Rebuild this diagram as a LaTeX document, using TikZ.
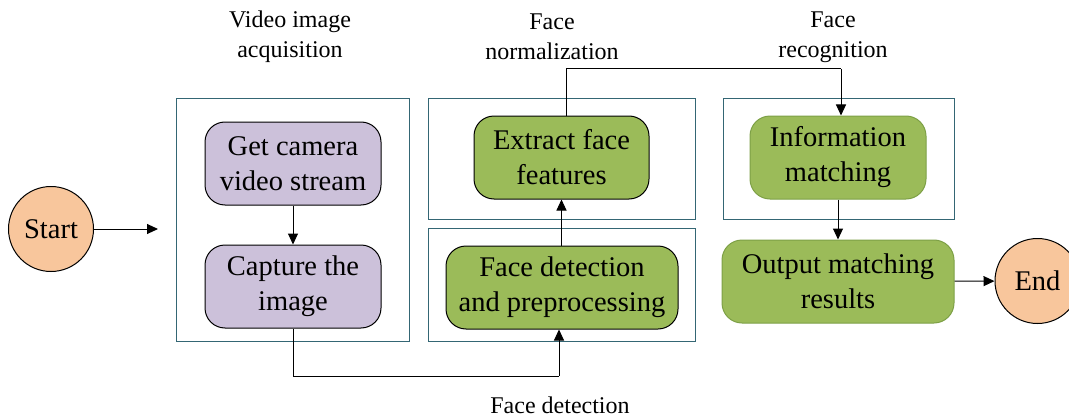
\documentclass[tikz,border=0pt]{standalone}
\usepackage{fontspec}
\setmainfont{Liberation Serif}
\usetikzlibrary{arrows.meta}
\definecolor{purplefill}{RGB}{204,193,218}
\definecolor{greenfill}{RGB}{155,187,89}
\definecolor{greenedge}{RGB}{125,160,70}
\definecolor{orangefill}{RGB}{248,198,156}
\definecolor{frameteal}{RGB}{52,102,116}
\tikzset{
  stepbox/.style={draw=black, line width=1pt, rounded corners=20pt, minimum height=83pt,
    align=center, font=\fontsize{28.5}{35}\selectfont, inner sep=0pt},
  purplebox/.style={stepbox, fill=purplefill, minimum width=176pt},
  greenbox/.style={stepbox, fill=greenfill},
  softgreen/.style={greenbox, draw=greenedge},
  terminal/.style={circle, draw=black, line width=1pt, fill=orangefill, minimum size=85pt,
    inner sep=0pt, font=\fontsize{28.5}{35}\selectfont},
  stage/.style={draw=frameteal, line width=1pt},
  caption/.style={align=center, font=\fontsize{24}{30}\selectfont},
  flow/.style={draw=black, line width=1pt, -{Triangle[length=11pt,width=10pt]}},
  link/.style={draw=black, line width=1pt},
}
\begin{document}
\begin{tikzpicture}[x=1pt,y=-1pt]
\useasboundingbox (0,0) rectangle (1069,420);

% stage frames
\draw[stage] (176,99) rectangle (409,341);
\draw[stage] (428,99) rectangle (695,219);
\draw[stage] (428,228) rectangle (695,341);
\draw[stage] (723,99) rectangle (954,219);

% stage captions
\node[caption] (capvideo) at (290,37) {Video image\\acquisition};
\node[caption] (capnorm) at (552,37) {Face\\normalization};
\node[caption] (caprec) at (833,37) {Face\\recognition};
\node[caption] (capdet) at (560,405) {Face detection};

% terminals
\node[terminal] (start) at (51,229) {Start};
\node[terminal] (end) at (1037.5,281) {End};

% steps
\node[purplebox] (getcam) at (293,163.5) {Get camera\\video stream};
\node[purplebox] (capture) at (293,286.5) {Capture the\\image};
\node[greenbox, minimum width=175pt] (extract) at (561.5,157.5) {Extract face\\features};
\node[greenbox, minimum width=232pt] (detect) at (562,287.5) {Face detection\\and preprocessing};
\node[softgreen, minimum width=176pt] (info) at (838,157.5) {Information\\matching};
\node[softgreen, minimum width=232pt] (output) at (838,281.5) {Output matching\\results};

% routing points
\coordinate (startend) at (158,229);
\coordinate (lowleft) at (293,376);
\coordinate (lowright) at (559,376);
\coordinate (topleft) at (566,69);
\coordinate (topright) at (841,69);

% connectors
\draw[flow] (start) -- (startend);
\draw[flow] (getcam) -- (capture);
\draw[link] (capture.south) -- (lowleft) -- (lowright);
\draw[flow] (lowright) -- (lowright |- detect.south);
\draw[flow] (detect.north -| extract.south) -- (extract.south);
\draw[link] (topleft |- extract.north) -- (topleft) -- (topright);
\draw[flow] (topright) -- (topright |- info.north);
\draw[flow] (info) -- (output);
\draw[flow] (output) -- (end);
\end{tikzpicture}
\end{document}
